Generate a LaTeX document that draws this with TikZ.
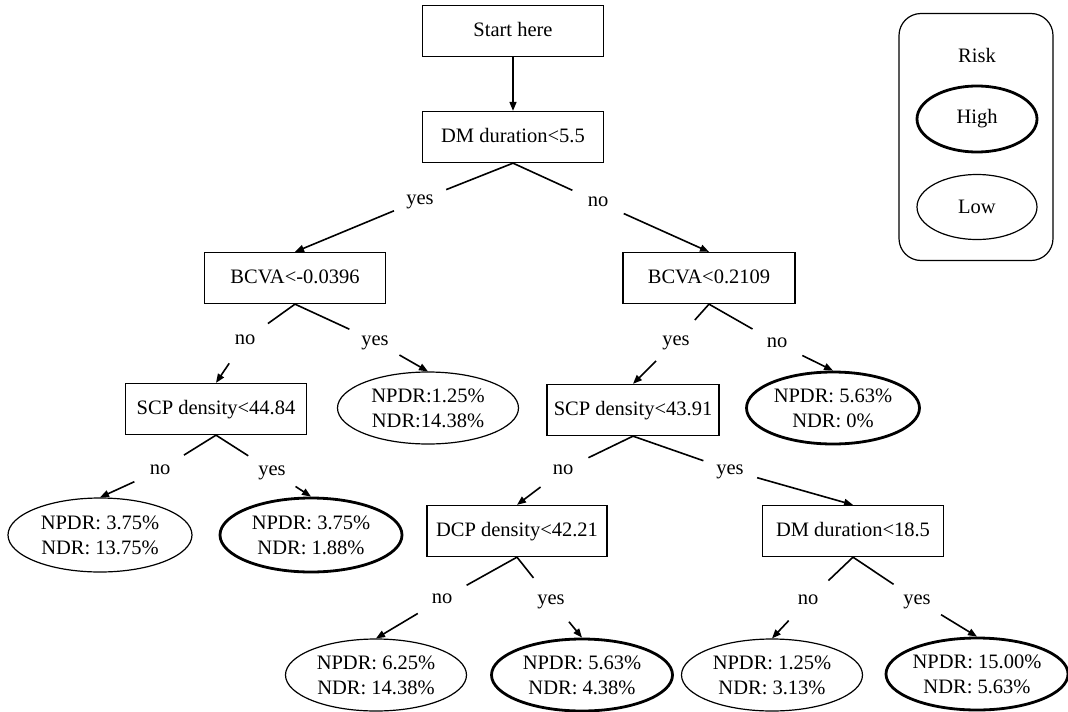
\documentclass[tikz,border=0pt]{standalone}
\usepackage{fontspec}
\setmainfont{Liberation Serif}
\usetikzlibrary{shapes.geometric,arrows.meta}
\begin{document}
\begin{tikzpicture}[x=1pt, y=-1pt, font=\fontsize{20.5}{25}\selectfont,
	test/.style={draw, line width=1.3pt, minimum width=181pt, minimum height=51pt, inner sep=0pt, text height=14pt, text depth=4pt},
	leaf/.style={ellipse, draw, align=center, minimum width=181pt, minimum height=72pt, inner sep=0pt},
	lowleaf/.style={leaf, line width=1.2pt},
	highleaf/.style={leaf, line width=2.8pt},
	ans/.style={circle, minimum size=56pt, inner sep=0pt, text height=9.5pt, text depth=0pt},
	>={Triangle[length=9pt, width=7pt]}]
\useasboundingbox (0,0) rectangle (1068,712);
\node [test] (start) at (513,31) {Start here};
\node [test] (dm1) at (513,137) {DM duration<5.5};
\node [test] (bcva1) at (295,278) {BCVA<-0.0396};
\node [test, minimum width=172pt] (bcva2) at (709,278) {BCVA<0.2109};
\node [test] (scp1) at (216,409) {SCP density<44.84};
\node [test, minimum width=172pt] (scp2) at (633,410) {SCP density<43.91};
\node [test, minimum width=180pt] (dcp) at (517,531) {DCP density<42.21};
\node [test] (dm2) at (853,531) {DM duration<18.5};
\node [lowleaf] (leaf1) at (428,408) {NPDR:1.25\%\\NDR:14.38\%};
\node [highleaf, minimum width=173pt] (leaf2) at (833,408) {NPDR: 5.63\%\\NDR: 0\%};
\node [lowleaf, minimum width=184pt, minimum height=74pt] (leaf3) at (100,535) {NPDR: 3.75\%\\NDR: 13.75\%};
\node [highleaf, minimum width=182pt, minimum height=74pt] (leaf4) at (311,535) {NPDR: 3.75\%\\NDR: 1.88\%};
\node [lowleaf] (leaf5) at (376,675) {NPDR: 6.25\%\\NDR: 14.38\%};
\node [highleaf] (leaf6) at (582,675) {NPDR: 5.63\%\\NDR: 4.38\%};
\node [lowleaf] (leaf7) at (772,675) {NPDR: 1.25\%\\NDR: 3.13\%};
\node [highleaf, minimum width=173pt] (leaf8) at (977,674) {NPDR: 15.00\%\\NDR: 5.63\%};
\foreach \n/\t/\x/\y in {a1/yes/420/200, a2/no/598/202, a3/no/245/340, a4/yes/375/341, a5/yes/676/341, a6/no/777/343, a7/no/160/470, a8/yes/272/471, a9/no/563/470, a10/yes/730/470, a11/no/442/599, a12/yes/551/600, a13/no/808/600, a14/yes/917/600}{
	\node [ans] (\n) at (\x,\y) {\t};
}
\draw [->, line width=1.6pt] (start) -- (dm1);
\foreach \p/\a/\c in {dm1/a1/bcva1, dm1/a2/bcva2, bcva1/a3/scp1, bcva1/a4/leaf1, bcva2/a5/scp2, bcva2/a6/leaf2, scp1/a7/leaf3, scp1/a8/leaf4, scp2/a9/dcp, scp2/a10/dm2, dcp/a11/leaf5, dcp/a12/leaf6, dm2/a13/leaf7, dm2/a14/leaf8}{
	\draw [line width=1.6pt] (\p.south) -- (\a);
	\draw [->, line width=1.6pt] (\a) -- (\c.north);
}
\node [draw, rounded corners=22pt, line width=1.2pt, minimum width=154pt, minimum height=247pt] (legend) at (976,137) {};
\node (risk) at (977,55) {Risk};
\node [highleaf, minimum width=120pt, minimum height=66pt] (high) at (977,119) {High};
\node [lowleaf, minimum width=120pt, minimum height=65pt] (low) at (977,207) {Low};
\end{tikzpicture}
\end{document}
